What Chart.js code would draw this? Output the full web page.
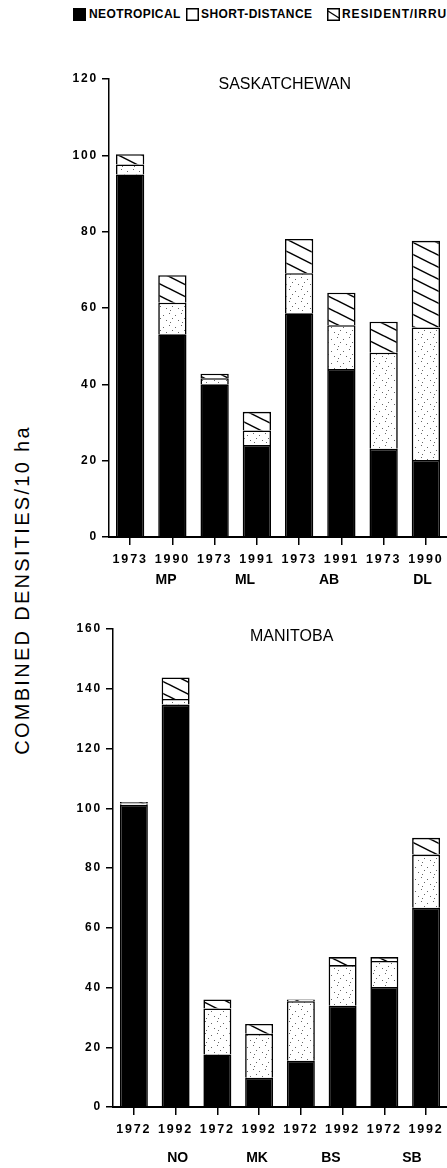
<!DOCTYPE html>
<html>
<head>
<meta charset="utf-8">
<script src="https://cdn.jsdelivr.net/npm/chart.js@4.4.0/dist/chart.umd.min.js"></script>
<style>
  html, body { margin: 0; padding: 0; background: #fff; }
  body { width: 447px; height: 1168px; position: relative; overflow: hidden; font-family: "Liberation Sans", Arial, sans-serif; }
  canvas { position: absolute; left: 0; }
  #top { top: 0; }
  #bottom { top: 600px; }
  .legend { position: absolute; top: 7px; left: 0; width: 447px; height: 16px; white-space: nowrap; overflow: hidden;
            font: bold 12px "Liberation Sans", Arial, sans-serif; letter-spacing: 0.4px; color: #000; }
  .legend span { position: absolute; top: 0; line-height: 14px; }
  .legend svg { position: absolute; top: 1px; }
  .ytitle { position: absolute; left: 22px; top: 590px; transform: translate(-50%, -50%) rotate(-90deg);
            white-space: nowrap; font: 20px "Liberation Sans", Arial, sans-serif; letter-spacing: 2.3px; color: #000; }
</style>
</head>
<body>
<div class="legend">
  <svg style="left:73px" width="13" height="13"><rect x="0.75" y="0.75" width="11.5" height="11.5" fill="#000" stroke="#000" stroke-width="1.5"/></svg>
  <span style="left:89px">NEOTROPICAL</span>
  <svg style="left:186px" width="13" height="13"><rect x="0.75" y="0.75" width="11.5" height="11.5" fill="#fff" stroke="#000" stroke-width="1.5"/></svg>
  <span style="left:201px">SHORT-DISTANCE</span>
  <svg style="left:327px" width="13" height="13"><rect x="0.75" y="0.75" width="11.5" height="11.5" fill="#fff" stroke="#000" stroke-width="1.5"/><line x1="1" y1="3" x2="12" y2="10" stroke="#000" stroke-width="1.3"/></svg>
  <span style="left:342px; letter-spacing: 0.9px">RESIDENT/IRRUPTIVE</span>
</div>
<div class="ytitle">COMBINED DENSITIES/10 ha</div>
<canvas id="top" width="447" height="600"></canvas>
<canvas id="bottom" width="447" height="568"></canvas>
<script>
// ---- Saskatchewan plots ----
const sasYears = ['1973', '1990', '1973', '1991', '1973', '1991', '1973', '1990'];
const sasSites = ['MP', 'ML', 'AB', 'DL'];
const sasNeotropical   = [95.0, 53.1, 40.0, 24.1, 58.6, 44.0, 23.1, 20.2];
const sasShortDistance = [2.6, 8.3, 1.6, 3.8, 10.5, 11.5, 25.2, 34.7];
const sasResident      = [2.7, 7.2, 1.2, 4.9, 9.0, 8.5, 8.1, 22.7];

// ---- Manitoba plots ----
const manYears = ['1972', '1992', '1972', '1992', '1972', '1992', '1972', '1992'];
const manSites = ['NO', 'MK', 'BS', 'SB'];
const manNeotropical   = [101.2, 134.7, 17.6, 9.8, 15.5, 33.9, 40.2, 66.7];
const manShortDistance = [0.4, 1.9, 15.4, 14.7, 19.9, 13.6, 8.7, 17.8];
const manResident      = [0.5, 7.2, 3.0, 3.3, 0.6, 2.7, 1.3, 5.6];

// Layout of each panel (canvas pixels / category offsets for the site names)
const panelLayout = {
  sas: { title: 'SASKATCHEWAN', yMax: 120, padTop: 79, axisWidth: 109, xHeight: 63,
         titleX: 0.52, titleDy: 6, siteAt: [0.85, 2.72, 4.71, 6.92], siteDy: 43 },
  man: { title: 'MANITOBA', yMax: 160, padTop: 29, axisWidth: 113, xHeight: 61,
         titleX: 0.535, titleDy: 8, siteAt: [1.05, 2.95, 4.72, 6.66], siteDy: 51 }
};

// Fill patterns: stipple for short-distance migrants, diagonal hatching for residents
function makeDots() {
  const c = document.createElement('canvas');
  c.width = 12; c.height = 12;
  const g = c.getContext('2d');
  g.fillStyle = '#fff'; g.fillRect(0, 0, 12, 12);
  g.fillStyle = '#666';
  [[1, 1], [7, 3], [4, 6], [10, 8], [2, 10]].forEach(([x, y]) => g.fillRect(x, y, 1, 1));
  return g.createPattern(c, 'repeat');
}
function makeHatch() {
  const c = document.createElement('canvas');
  c.width = 24; c.height = 12;
  const g = c.getContext('2d');
  g.fillStyle = '#fff'; g.fillRect(0, 0, 24, 12);
  g.strokeStyle = '#000'; g.lineWidth = 1.5;
  [-12, 0, 12].forEach(dy => {
    g.beginPath(); g.moveTo(0, dy); g.lineTo(24, dy + 12); g.stroke();
  });
  return g.createPattern(c, 'repeat');
}
const dotFill = makeDots();
const hatchFill = makeHatch();

const FONT = '"Liberation Sans", Arial, sans-serif';

// Draws the panel title and the site names under the year labels
const panelText = {
  id: 'panelText',
  beforeDraw(chart) { chart.ctx.letterSpacing = '1.8px'; },
  afterDraw(chart, args, opts) {
    const { ctx, chartArea, scales } = chart;
    ctx.save();
    ctx.fillStyle = '#000';
    ctx.textAlign = 'center';
    ctx.textBaseline = 'middle';
    ctx.letterSpacing = '0px';
    ctx.font = '16px ' + FONT;
    ctx.fillText(opts.title, chartArea.left + opts.titleX * (chartArea.right - chartArea.left), chartArea.top + opts.titleDy);
    ctx.font = 'bold 14px ' + FONT;
    opts.sites.forEach((s, i) => {
      ctx.fillText(s, scales.x.getPixelForValue(opts.siteAt[i]), chartArea.bottom + opts.siteDy);
    });
    ctx.restore();
  }
};

function buildPanel(id, years, sites, neo, shortD, res, L) {
  return new Chart(document.getElementById(id), {
    type: 'bar',
    data: {
      labels: years,
      datasets: [
        { label: 'NEOTROPICAL', data: neo, backgroundColor: '#000' },
        { label: 'SHORT-DISTANCE', data: shortD, backgroundColor: dotFill },
        { label: 'RESIDENT/IRRUPTIVE', data: res, backgroundColor: hatchFill }
      ].map(d => Object.assign(d, { borderColor: '#000', borderWidth: 1.6, categoryPercentage: 1, barPercentage: 0.67 }))
    },
    options: {
      responsive: false,
      animation: false,
      devicePixelRatio: 1,
      layout: { padding: { top: L.padTop, left: 0, right: 0, bottom: 0 } },
      plugins: {
        legend: { display: false },
        tooltip: { enabled: false },
        panelText: { title: L.title, sites: sites, siteAt: L.siteAt, titleX: L.titleX, titleDy: L.titleDy, siteDy: L.siteDy }
      },
      scales: {
        x: {
          stacked: true,
          afterFit: s => { s.height = L.xHeight; },
          grid: { display: true, drawOnChartArea: false, offset: false, tickLength: 8, color: '#000', lineWidth: 1.5 },
          border: { display: true, color: '#000', width: 2 },
          ticks: { color: '#000', font: { family: FONT, size: 12.5, weight: 'bold' }, padding: 7, maxRotation: 0, autoSkip: false }
        },
        y: {
          stacked: true,
          min: 0, max: L.yMax,
          afterFit: s => { s.width = L.axisWidth; },
          grid: { display: true, drawOnChartArea: false, tickLength: 7, color: '#000', lineWidth: 1.5 },
          border: { display: true, color: '#000', width: 1.5 },
          ticks: { stepSize: 20, color: '#000', font: { family: FONT, size: 12, weight: 'bold' }, padding: 4 }
        }
      }
    },
    plugins: [panelText]
  });
}

buildPanel('top', sasYears, sasSites, sasNeotropical, sasShortDistance, sasResident, panelLayout.sas);
buildPanel('bottom', manYears, manSites, manNeotropical, manShortDistance, manResident, panelLayout.man);
</script>
</body>
</html>
